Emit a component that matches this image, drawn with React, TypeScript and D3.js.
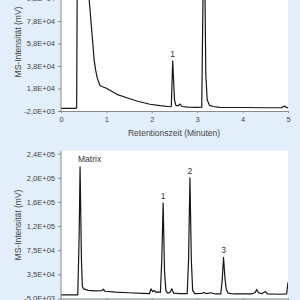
import React, { useRef, useEffect } from 'react';
import * as d3 from 'd3';

// upper chromatogram (matrix blank + peaks)
const topTime = [0, 0.2, 0.33, 0.345, 0.4, 0.45, 0.52, 0.62, 0.73, 0.76, 0.8, 0.86, 1.0, 1.23, 1.45, 1.67, 1.96, 2.18, 2.4, 2.43, 2.46, 2.5, 2.53, 2.58, 2.62, 2.66, 2.8, 3.0, 3.1, 3.15, 3.19, 3.22, 3.27, 3.35, 3.5, 4.0, 4.5, 4.85, 4.93, 4.97, 5.0];
const topSignal = [400, 400, 400, 1000, 500000, 400000, 200000, 97500, 43500, 35000, 27000, 20500, 18200, 12800, 9800, 6900, 4000, 2700, 1800, 2000, 42500, 8000, 3000, 2500, 4200, 2000, 1500, 1300, 1400, 180000, 30000, 8000, 3000, 2000, 1300, 1100, 900, 900, 2300, 1200, 600];
const topTicks = [-2000, 18000, 38000, 58000, 78000, 98000];
const topPeaks = [{ label: '1', t: 2.46, v: 42500 }];

// lower chromatogram (spiked sample)
const botTime = [0, 0.37, 0.4, 0.42, 0.45, 0.47, 0.5, 0.6, 0.75, 0.9, 0.93, 0.97, 1.2, 1.5, 1.8, 1.95, 1.98, 2.02, 2.06, 2.1, 2.14, 2.19, 2.22, 2.25, 2.28, 2.31, 2.35, 2.4, 2.44, 2.48, 2.6, 2.78, 2.81, 2.84, 2.87, 2.9, 2.95, 3.1, 3.15, 3.2, 3.3, 3.4, 3.52, 3.55, 3.58, 3.61, 3.64, 3.68, 3.8, 4.2, 4.28, 4.31, 4.35, 4.42, 4.5, 4.55, 4.8, 4.97, 5.0];
const botSignal = [1100, 1100, 100000, 213000, 60000, 15000, 11000, 8500, 7500, 8000, 10500, 7000, 5500, 4500, 3500, 3000, 11000, 6500, 8000, 5000, 6000, 5000, 60000, 153000, 40000, 8000, 4000, 5000, 11000, 4000, 3000, 3000, 60000, 195000, 60000, 8000, 3000, 3500, 5000, 3000, 4500, 2500, 2500, 25000, 63000, 30000, 10000, 4000, 2500, 2500, 5000, 10000, 4500, 3000, 6500, 2500, 2000, 2500, 22000];
const botTicks = [-5000, 35000, 75000, 115000, 155000, 195000, 235000];
const botPeaks = [
  { label: '1', t: 2.25, v: 153000 },
  { label: '2', t: 2.84, v: 195000 },
  { label: '3', t: 3.58, v: 63000 },
];

const xTicks = [0, 1, 2, 3, 4, 5];

const fmtSci = (v: number) => {
  const [m, e] = v.toExponential(1).split('e');
  const sign = e[0] === '-' ? '-' : '+';
  const digits = e.replace(/[+-]/, '').padStart(2, '0');
  return `${m.replace('.', ',')}E${sign}${digits}`;
};

export default function App() {
  const svgRef = useRef<SVGSVGElement>(null);

  useEffect(() => {
    if (!svgRef.current) return;
    const svg = d3.select(svgRef.current);
    svg.selectAll('*').remove();

    const font = '"Liberation Sans", Arial, sans-serif';
    const left = 61;
    const right = 288;

    svg.append('rect').attr('width', 300).attr('height', 300).attr('fill', '#e2eef9');

    const x = d3.scaleLinear().domain([0, 5]).range([left, right]);

    const panels = [
      { id: 'top', time: topTime, sig: topSignal, ticks: topTicks, domain: [-2000, 98000], range: [111, -1.5], plotTop: -10, titleY: 42, peaks: topPeaks, showX: true },
      { id: 'bot', time: botTime, sig: botSignal, ticks: botTicks, domain: [-5000, 240000], range: [298.5, 150.6], plotTop: 150.6, titleY: 225, peaks: botPeaks, showX: false },
    ];

    panels.forEach(p => {
      const y = d3.scaleLinear().domain(p.domain).range(p.range);
      const bottom = p.range[0];

      svg.append('rect')
        .attr('x', left).attr('y', p.plotTop)
        .attr('width', right - left).attr('height', bottom - p.plotTop)
        .attr('fill', '#ffffff');

      svg.append('clipPath').attr('id', `clip-${p.id}`)
        .append('rect')
        .attr('x', left).attr('y', p.plotTop)
        .attr('width', right - left).attr('height', bottom - p.plotTop);

      const pts = p.time.map((t, i) => [t, p.sig[i]] as [number, number]);
      const line = d3.line<[number, number]>().x(d => x(d[0])).y(d => y(d[1]));

      svg.append('path')
        .attr('d', line(pts) || '')
        .attr('clip-path', `url(#clip-${p.id})`)
        .attr('fill', 'none')
        .attr('stroke', '#161616')
        .attr('stroke-width', 1.2)
        .attr('stroke-linejoin', 'round');

      const yAxis = svg.append('g')
        .attr('transform', `translate(${left},0)`)
        .call(d3.axisLeft(y).tickValues(p.ticks).tickFormat(d => fmtSci(+d)).tickSize(3).tickSizeOuter(0).tickPadding(3))
        .attr('font-size', '7.5px')
        .attr('font-family', font);
      yAxis.select('.domain').attr('stroke', '#8a8a8a').attr('d', `M0,${p.plotTop}V${bottom}`);
      yAxis.selectAll('line').attr('stroke', '#8a8a8a');
      yAxis.selectAll('text').attr('fill', '#444');

      const xAxis = svg.append('g')
        .attr('transform', `translate(0,${bottom})`)
        .call(d3.axisBottom(x).tickValues(xTicks).tickFormat(d3.format('d')).tickSize(2).tickSizeOuter(0).tickPadding(4))
        .attr('font-size', '7.5px')
        .attr('font-family', font);
      xAxis.select('.domain').attr('stroke', '#8a8a8a');
      xAxis.selectAll('line').attr('stroke', '#8a8a8a');
      xAxis.selectAll('text').attr('fill', '#444');

      if (p.showX) {
        svg.append('text')
          .attr('x', 174).attr('y', 136)
          .attr('text-anchor', 'middle')
          .attr('font-family', font).attr('font-size', '8.5px').attr('fill', '#444')
          .text('Retentionszeit (Minuten)');
      }

      svg.append('text')
        .attr('transform', `translate(21,${p.titleY}) rotate(-90)`)
        .attr('text-anchor', 'middle')
        .attr('font-family', font).attr('font-size', '8.5px').attr('fill', '#444')
        .text('MS-Intensität (mV)');

      p.peaks.forEach(pk => {
        svg.append('text')
          .attr('x', x(pk.t)).attr('y', y(pk.v) - 4)
          .attr('text-anchor', 'middle')
          .attr('font-family', font).attr('font-size', '8.5px').attr('fill', '#333')
          .text(pk.label);
      });
    });

    svg.append('text')
      .attr('x', 78).attr('y', 162)
      .attr('font-family', font).attr('font-size', '8.5px').attr('fill', '#333')
      .text('Matrix');
  }, []);

  return (
    <svg ref={svgRef} width={300} height={300} style={{ position: 'absolute', left: 0, top: 0 }} />
  );
}
